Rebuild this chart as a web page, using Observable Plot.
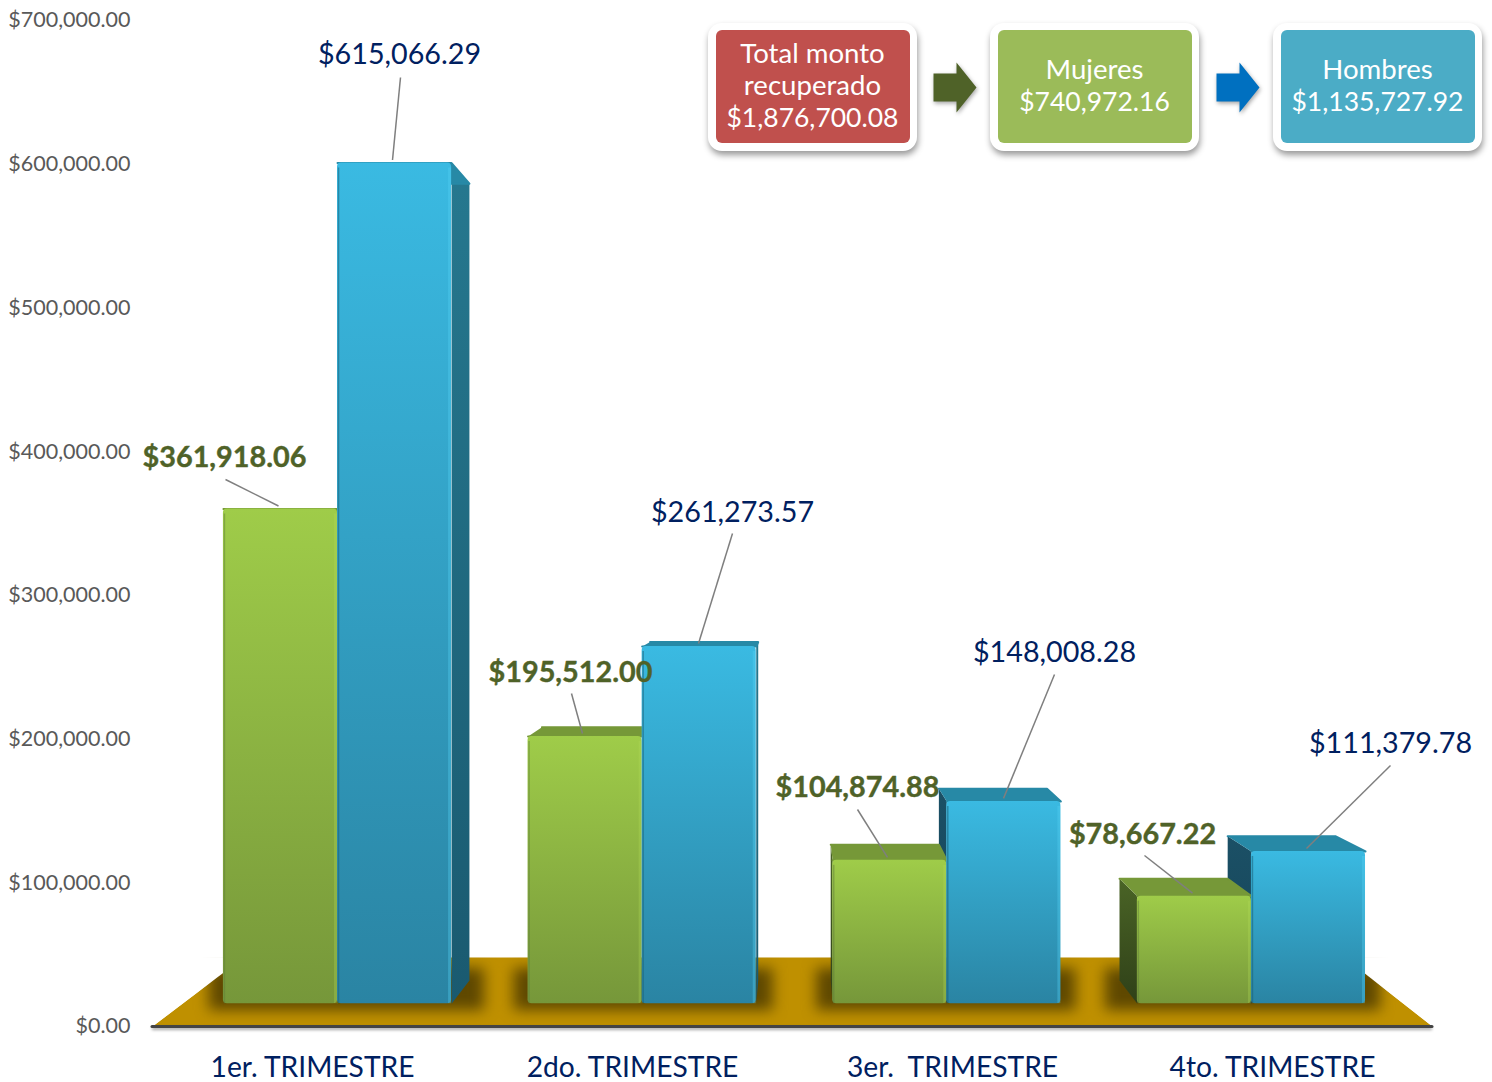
<!DOCTYPE html>
<html><head><meta charset="utf-8">
<style>html,body{margin:0;padding:0;background:#fff;overflow:hidden}svg{display:block}</style>
<script src="https://cdn.jsdelivr.net/npm/d3@7"></script>
<script src="https://cdn.jsdelivr.net/npm/@observablehq/plot@0.6"></script>
</head><body><script>
const quarters = ["1er. TRIMESTRE","2do. TRIMESTRE","3er.  TRIMESTRE","4to. TRIMESTRE"];
const womenValues = [361918.06,195512.00,104874.88,78667.22];
const menValues = [615066.29,261273.57,148008.28,111379.78];
const yTicks = [0,100000,200000,300000,400000,500000,600000,700000];
const summaryTitles = [["Total monto","recuperado"],["Mujeres"],["Hombres"]];
const summaryValues = [1876700.08,740972.16,1135727.92];

// layout: page pixels to data units
const W=1492,H=1082,L=152,R=1432,T=20,B=1026;
const toX=p=>(p-L)/((R-L)/4), toY=p=>(B-p)/((B-T)/700000);
const dX=p=>p/((R-L)/4), dY=p=>p/((B-T)/700000);
const money=d3.format("$,.2f");
// perspective: the front plane of the bars is the axis plane scaled towards a centre; depth runs to a vanishing point
const vx=toX(833), vy=toY(560), kFrontX=.952, kFrontY=.951, depthX=toX(794), kDepth=.948, kFloor=.852;
const P=(x,v)=>({x:vx+(x-vx)*kFrontX,y:vy+(v-vy)*kFrontY});
const Back=(x,v)=>{const f=P(x,v);return {x:depthX+(f.x-depthX)*kDepth,y:vy+(f.y-vy)*kDepth};};
const halfW=.3745;

const bars=[];
quarters.forEach((q,i)=>{
  bars.push({i,kind:"w",value:womenValues[i],a:i+.5-halfW,b:i+.5});
  bars.push({i,kind:"m",value:menValues[i],a:i+.5,b:i+.5+halfW});
});
const poly=(id,pts)=>pts.map(p=>({id,...p}));
const isLeftVisible=b=>P(b.a,0).x>depthX;
function sideOf(bar){
  const x=isLeftVisible(bar)?bar.a:bar.b;
  return poly(bar.kind+bar.i,[P(x,0),P(x,bar.value),Back(x,bar.value),Back(x,0)]);
}
const sideFaces=(kind,left)=>bars.filter(b=>b.kind===kind&&isLeftVisible(b)===left).flatMap(sideOf);
const topFaces=kind=>bars.filter(b=>b.kind===kind).flatMap(b=>poly(b.kind+b.i,[P(b.a,b.value),P(b.b,b.value),Back(b.b,b.value),Back(b.a,b.value)]));
const front=kind=>bars.filter(b=>b.kind===kind).map(b=>({x1:P(b.a,0).x,x2:P(b.b,0).x,y1:P(0,0).y,y2:P(0,b.value).y}));

const floorBackY=vy+(0-vy)*kFloor;
const floorBackL=toX(243), floorBackR=toX(1344);
const floorPts=poly("f",[{x:0,y:0},{x:4,y:0},{x:floorBackR,y:floorBackY},{x:floorBackL,y:floorBackY}]);
const shadows=quarters.map((q,i)=>{
  const a=i+.5-halfW,b=i+.5+halfW;
  return {x1:Math.min(P(a,0).x,Back(a,0).x)-dX(14),x2:Math.max(P(b,0).x,Back(b,0).x)+dX(15),y1:toY(1010),y2:toY(968)};
});
const whiteCovers=[
  ...poly("c1",[{x:toX(0),y:0},{x:0,y:0},{x:floorBackL,y:floorBackY},{x:toX(0),y:floorBackY}]),
  ...poly("c2",[{x:toX(W),y:0},{x:4,y:0},{x:floorBackR,y:floorBackY},{x:toX(W),y:floorBackY}])
];

// value-label centres on the page, women then men per quarter
const labelW=[[224,457],[570,672],[857,787],[1142,834]];
const labelM=[[399,54],[732,512],[1054,652],[1390,743]];
const leaderW=[[225,479],[571,693],[857,809],[1144,855]];
const leaderM=[[400,77],[732,533],[1054,674],[1390,765]];
const labels=(vals,pos)=>vals.map((v,i)=>({text:money(v),x:toX(pos[i][0]),y:toY(pos[i][1])}));
const leaderEndX={w:[278,582,887,1192],m:[392,698,1003,1306]};
const leaders=(vals,pos,k)=>vals.map((v,i)=>({x1:toX(pos[i][0]),y1:toY(pos[i][1]),x2:toX(leaderEndX[k][i]),y2:P(0,v).y+dY(3)}));

// summary boxes
const boxLeft=[708,990,1273], boxFill=["#C0504D","#9BBB59","#4BACC6"];
const outer=boxLeft.map(l=>({x1:toX(l),x2:toX(l+209),y1:toY(151),y2:toY(23)}));
const inner=boxLeft.map((l,i)=>({x1:toX(l+8),x2:toX(l+202),y1:toY(143),y2:toY(30),fill:boxFill[i]}));
const boxTitles=[],boxValues=[];
summaryTitles.forEach((t,i)=>{
  const top=t.length===2?53.5:70;
  t.forEach((s,j)=>boxTitles.push({text:s,x:toX(boxLeft[i]+104),y:toY(top+j*32.5)}));
  boxValues.push({text:money(summaryValues[i]),x:toX(boxLeft[i]+104),y:toY(top+t.length*32.5)});
});
const arrow=(l,id)=>poly(id,[[l,73],[l+23,73],[l+23,62],[l+43,87],[l+23,112],[l+23,101],[l,101]].map(([a,b])=>({x:toX(a),y:toY(b)})));

const grad=(id,c1,c2)=>`<linearGradient id="${id}" x1="0" y1="0" x2="0" y2="1"><stop offset="0" stop-color="${c1}"/><stop offset="1" stop-color="${c2}"/></linearGradient>`;
const defs=()=>{const g=d3.create("svg:g");g.html(`<defs>${
  grad("gFront","#9FCC49","#76973A")+grad("bFront","#3ABAE2","#2A84A3")+
  grad("bRight","#26788F","#1A5A70")+grad("bLeft","#1B5066","#154355")+
  grad("gLeft","#4A6426","#2F4018")}</defs>`);return g.node();};

const line=(data,fill,extra={})=>Plot.line(data,{x:"x",y:"y",z:"id",fill,stroke:"none",...extra});
const rectPlain=(data,o)=>Plot.rect(data,{x1:"x1",x2:"x2",y1:"y1",y2:"y2",...o});
const edge=(data,o)=>Plot.ruleX(data,{y1:"y1",y2:d=>d.y2-dY(5),...o});

const chart=Plot.plot({
  width:W,height:H,marginLeft:L,marginRight:W-R,marginTop:T,marginBottom:H-B,
  style:{background:"#fff",fontFamily:"Lato",overflow:"visible"},
  x:{type:"linear",domain:[0,4],range:[L,R]},
  y:{type:"linear",domain:[0,700000],range:[B,T]},
  marks:[
    defs,
    line(floorPts,"#BF9000"),
    rectPlain(shadows,{fill:"#5F4800",imageFilter:"blur(7px)"}),
    Plot.rect([{}],{x1:toX(0),x2:toX(W),y1:floorBackY,y2:toY(0),fill:"#fff"}),
    line(whiteCovers,"#fff"),
    Plot.ruleY([0],{x1:0,x2:4,stroke:"#000",strokeOpacity:.35,strokeWidth:3,dy:2,imageFilter:"blur(1.5px)"}),
    Plot.ruleY([0],{x1:0,x2:4,stroke:"#444",strokeWidth:3,strokeLinecap:"round"}),
    Plot.axisY(yTicks,{tickFormat:money,tickSize:0,tickPadding:22,fontSize:21.5,fill:"#595959",label:null}),
    Plot.axisX([.5,1.5,2.5,3.5],{tickFormat:(d,i)=>quarters[i],tickSize:0,tickPadding:30,fontSize:28.2,fill:"#002060",label:null}),
    line(sideFaces("m",false),"url(#bRight)"),
    line(sideFaces("m",true),"url(#bLeft)"),
    line(topFaces("m"),"#2789A6",{stroke:"#2789A6",strokeWidth:2,strokeLinejoin:"round"}),
    line(sideFaces("w",false),"#6F8F35"),
    line(sideFaces("w",true),"url(#gLeft)"),
    line(topFaces("w"),"#769838",{stroke:"#769838",strokeWidth:2,strokeLinejoin:"round"}),
    rectPlain(front("w"),{fill:"url(#gFront)",rx:4}),
    edge(front("w"),{x:"x1",dx:1,stroke:"#5E7A3A",strokeOpacity:.45,strokeWidth:1.5}),
    edge(front("w"),{x:"x2",dx:-2,stroke:"#B4DC5A",strokeOpacity:.3,strokeWidth:3}),
    rectPlain(front("m"),{fill:"url(#bFront)",rx:4}),
    edge(front("m"),{x:"x1",dx:1,stroke:"#1C6078",strokeOpacity:.55,strokeWidth:1.5}),
    edge(front("m"),{x:"x2",dx:-2,stroke:"#55D2F4",strokeOpacity:.35,strokeWidth:3}),
    Plot.link(leaders(womenValues,leaderW,"w"),{x1:"x1",y1:"y1",x2:"x2",y2:"y2",stroke:"#7F7F7F",strokeWidth:1.5}),
    Plot.link(leaders(menValues,leaderM,"m"),{x1:"x1",y1:"y1",x2:"x2",y2:"y2",stroke:"#7F7F7F",strokeWidth:1.5}),
    Plot.text(labels(womenValues,labelW),{x:"x",y:"y",text:"text",fill:"#4F6228",stroke:"#4F6228",strokeWidth:.4,fontSize:28.8,fontWeight:700}),
    Plot.text(labels(menValues,labelM),{x:"x",y:"y",text:"text",fill:"#002060",fontSize:28.7}),
    rectPlain(outer,{fill:"#fff",rx:14,imageFilter:"drop-shadow(1px 4px 3px rgba(0,0,0,.4))"}),
    rectPlain(inner,{fill:"fill",rx:6}),
    Plot.text(boxTitles,{x:"x",y:"y",text:"text",fill:"#fff",fontSize:27.6}),
    Plot.text(boxValues,{x:"x",y:"y",text:"text",fill:"#fff",fontSize:26.5}),
    line(arrow(933,"a1"),"#4F6228",{imageFilter:"drop-shadow(1px 2px 2px rgba(0,0,0,.35))"}),
    line(arrow(1216,"a2"),"#0070C0",{imageFilter:"drop-shadow(1px 2px 2px rgba(0,0,0,.35))"})
  ]
});
document.body.append(chart);
</script></body></html>
